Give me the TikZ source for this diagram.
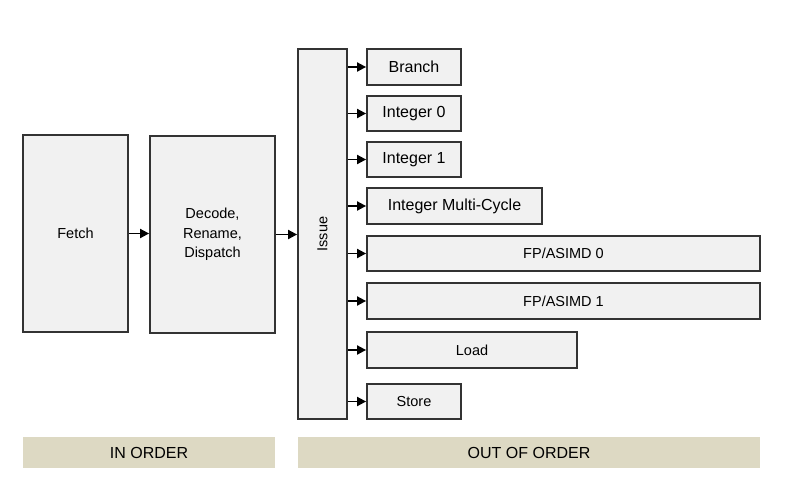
\documentclass[tikz,border=0pt]{standalone}
\usepackage{fontspec}
\setmainfont{Liberation Sans}
\usetikzlibrary{arrows.meta}
\definecolor{boxfill}{HTML}{F1F1F1}
\definecolor{boxline}{HTML}{333333}
\definecolor{bandfill}{HTML}{DDD9C3}
\tikzset{
  unit/.style={draw=boxline, fill=boxfill, line width=1.8pt, inner sep=0pt,
    font=\fontsize{14.5}{19.5}\selectfont, align=center},
  bigunit/.style={unit, font=\fontsize{16}{19}\selectfont},
  band/.style={fill=bandfill, inner sep=0pt, font=\fontsize{16}{19}\selectfont},
  arr/.style={line width=1.8pt, -{Triangle[length=9pt,width=9pt]}}
}
\begin{document}
\begin{tikzpicture}[x=1pt, y=-1pt]
      \useasboundingbox (0,0) rectangle (790,488);
      %
      \node[unit, minimum width=105pt, minimum height=197pt] (fetch) at (75.5,233.5) {Fetch};
      \node[unit, minimum width=125pt, minimum height=197pt] (decode) at (212.5,234.5) {Decode,\\Rename,\\Dispatch};
      \node[unit, minimum width=49pt, minimum height=370pt] (issue) at (322.5,234) {\rotatebox{90}{Issue}};
      %
      \node[bigunit, minimum width=94pt, minimum height=36pt] (branch) at (414,67) {Branch};
      \node[bigunit, minimum width=94pt, minimum height=35pt] (int0) at (414,113.5) {Integer 0};
      \node[bigunit, minimum width=94pt, minimum height=35pt] (int1) at (414,159.5) {Integer 1};
      \node[bigunit, minimum width=175pt, minimum height=36pt] (intmc) at (454.5,206) {Integer Multi-Cycle};
      \node[unit, minimum width=393pt, minimum height=35pt] (fp0) at (563.5,253.5) {FP/ASIMD 0};
      \node[unit, minimum width=393pt, minimum height=36pt] (fp1) at (563.5,301) {FP/ASIMD 1};
      \node[unit, minimum width=210pt, minimum height=36pt] (load) at (472,350) {Load};
      \node[unit, minimum width=94pt, minimum height=35pt] (store) at (414,401.5) {Store};
      %
      \node[band, minimum width=252pt, minimum height=31pt] (inorder) at (149,452.5) {IN ORDER};
      \node[band, minimum width=462pt, minimum height=31pt] (outorder) at (529,452.5) {OUT OF ORDER};
      %
      \draw[arr] (fetch) -- (decode.west |- fetch.east);
      \draw[arr] (decode.east) -- (decode.east -| issue.west);
      \foreach \u in {branch,int0,int1,intmc,fp0,fp1,load,store}
        \draw[arr] (issue.east |- \u.west) -- (\u.west);
      %
    \end{tikzpicture}
\end{document}
